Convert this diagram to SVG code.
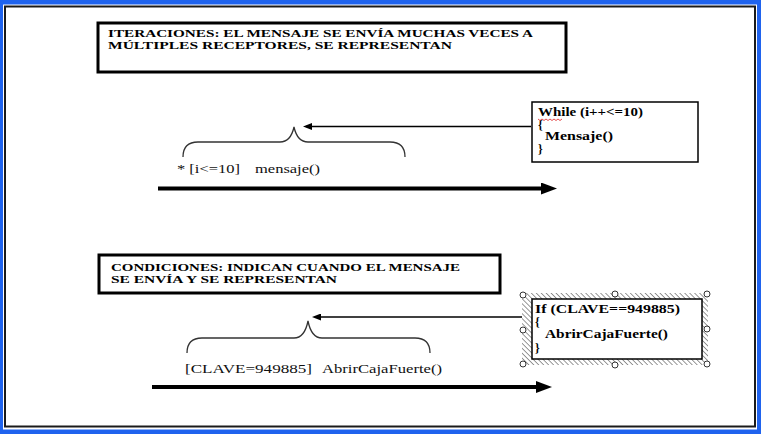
<svg xmlns="http://www.w3.org/2000/svg" width="761" height="434" viewBox="0 0 761 434">
<style>
.title{font-family:"Liberation Serif","DejaVu Serif","Times New Roman",serif;font-weight:bold;font-size:11px;fill:#000}
.code{font-family:"Liberation Serif","DejaVu Serif","Times New Roman",serif;font-weight:bold;font-size:12px;fill:#000}
.lbl{font-family:"Liberation Serif","DejaVu Serif","Times New Roman",serif;font-size:13.5px;fill:#111}
.thick{stroke:#000;stroke-width:4;fill:none}
.thin{stroke:#000;stroke-width:1.5;fill:none}
.brace{stroke:#333;stroke-width:1.3;fill:none}
.handle{fill:#fff;stroke:#333;stroke-width:1}
</style>
<defs>
<marker id="headThick" markerUnits="userSpaceOnUse" markerWidth="16" markerHeight="12" refX="4" refY="6" orient="auto">
<path d="M0,0 L16,6 L0,12 z" fill="#000"/>
</marker>
<marker id="headThin" markerUnits="userSpaceOnUse" markerWidth="9" markerHeight="7" refX="6" refY="3.5" orient="auto">
<path d="M0,0 L9,3.5 L0,7 z" fill="#000"/>
</marker>
<pattern id="hatch" patternUnits="userSpaceOnUse" width="3.5" height="3.5" patternTransform="rotate(-45)">
<rect width="3.5" height="3.5" fill="#fff"/>
<line x1="0" y1="0" x2="0" y2="3.5" stroke="#444" stroke-width="1.1"/>
</pattern>
</defs>

<g id="frame">
<rect x="0" y="0" width="761" height="434" fill="#1f63ee"/>
<rect x="3" y="4.5" width="754" height="425" fill="#fff"/>
<rect x="5" y="6.5" width="750" height="420" fill="#fff" stroke="#1a1a1a" stroke-width="2"/>
</g>

<g id="box-iteraciones">
<rect x="98" y="23" width="468" height="49" fill="#fff" stroke="#000" stroke-width="3"/>
<text class="title" x="108" y="37" textLength="425" lengthAdjust="spacingAndGlyphs">ITERACIONES: EL MENSAJE SE ENVÍA MUCHAS VECES A</text>
<text class="title" x="108" y="48.5" textLength="344" lengthAdjust="spacingAndGlyphs">MÚLTIPLES RECEPTORES, SE REPRESENTAN</text>
</g>

<g id="box-while">
<rect x="532" y="102" width="166" height="60" fill="#fff" stroke="#000" stroke-width="1.5"/>
<text class="code" x="538" y="116" textLength="105" lengthAdjust="spacingAndGlyphs">While (i++&lt;=10)</text>
<path d="M538,119 l2,1.5 l2,-1.5 l2,1.5 l2,-1.5 l2,1.5 l2,-1.5 l2,1.5 l2,-1.5 l2,1.5 l2,-1.5 l2,1.5 l2,-1.5" fill="none" stroke="#d22" stroke-width="0.8"/>
<text class="code" x="538" y="129">{</text>
<text class="code" x="545" y="140" textLength="68" lengthAdjust="spacingAndGlyphs">Mensaje()</text>
<text class="code" x="538" y="153">}</text>
</g>

<g id="label-iteracion">
<path class="brace" d="M183,157 C183,147 188,142 198,142 L280,142 C288,142 292,136 294,127 C296,136 300,142 308,142 L390,142 C400,142 405,147 405,157"/>
<text class="lbl" y="173"><tspan x="177" textLength="63" lengthAdjust="spacingAndGlyphs">* [i&lt;=10]</tspan><tspan x="255" textLength="65" lengthAdjust="spacingAndGlyphs">mensaje()</tspan></text>
</g>

<g id="box-condiciones">
<rect x="99" y="255" width="401" height="38" fill="#fff" stroke="#000" stroke-width="3"/>
<text class="title" x="111" y="271" textLength="349" lengthAdjust="spacingAndGlyphs">CONDICIONES: INDICAN CUANDO EL MENSAJE</text>
<text class="title" x="111" y="282.5" textLength="226" lengthAdjust="spacingAndGlyphs">SE ENVÍA Y SE REPRESENTAN</text>
</g>

<g id="box-if">
<rect x="522" y="293" width="186" height="72" fill="url(#hatch)"/>
<rect x="532" y="299" width="170" height="60" fill="#fff" stroke="#000" stroke-width="1.5"/>
<circle class="handle" cx="523" cy="295" r="3"/>
<circle class="handle" cx="615" cy="294" r="3"/>
<circle class="handle" cx="707" cy="294" r="3"/>
<circle class="handle" cx="523" cy="330" r="3"/>
<circle class="handle" cx="707" cy="329" r="3"/>
<circle class="handle" cx="523" cy="364" r="3"/>
<circle class="handle" cx="615" cy="365" r="3"/>
<circle class="handle" cx="707" cy="364" r="3"/>
<text class="code" x="535" y="313" textLength="145" lengthAdjust="spacingAndGlyphs">If (CLAVE==949885)</text>
<text class="code" x="535" y="326">{</text>
<text class="code" x="545" y="338" textLength="123" lengthAdjust="spacingAndGlyphs">AbrirCajaFuerte()</text>
<text class="code" x="535" y="352">}</text>
</g>

<g id="label-condicion">
<path class="brace" d="M187,353 C187,343 192,338 202,338 L294,338 C302,338 306,331 308,321 C310,331 314,338 322,338 L415,338 C425,338 430,343 430,353"/>
<text class="lbl" y="372.5"><tspan x="185" textLength="127" lengthAdjust="spacingAndGlyphs">[CLAVE=949885]</tspan><tspan x="322" textLength="120" lengthAdjust="spacingAndGlyphs">AbrirCajaFuerte()</tspan></text>
</g>

<g id="connectors">
<line class="thin" x1="531" y1="126.5" x2="306" y2="126.5" marker-end="url(#headThin)"/>
<line class="thick" x1="158" y1="188.5" x2="545" y2="188.5" marker-end="url(#headThick)"/>
<line class="thin" x1="522" y1="317" x2="315" y2="317" marker-end="url(#headThin)"/>
<line class="thick" x1="152" y1="387" x2="540" y2="387" marker-end="url(#headThick)"/>
</g>
</svg>
